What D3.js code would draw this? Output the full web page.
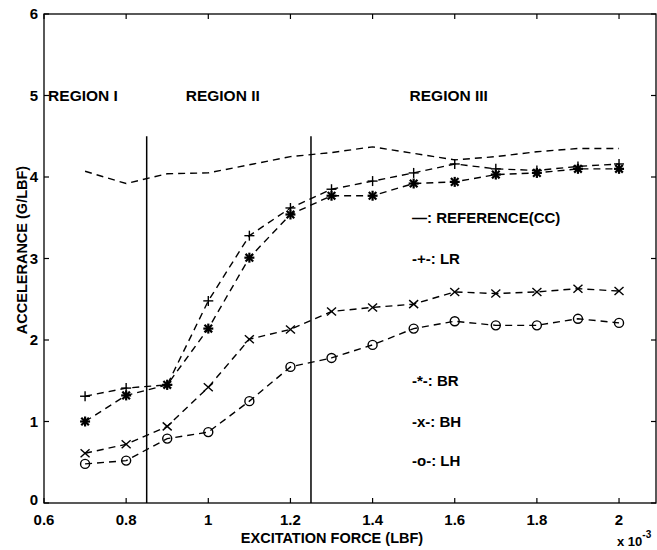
<!DOCTYPE html>
<html>
<head>
<meta charset="utf-8">
<script src="https://cdn.jsdelivr.net/npm/d3@7"></script>
<style>
  html, body { margin: 0; padding: 0; background: #fff; }
  svg { display: block; }
  text { font-family: "Liberation Sans", Arial, Helvetica, sans-serif; font-weight: bold; fill: #000; }
</style>
</head>
<body>
<svg id="chart" width="657" height="550"></svg>
<script>
// Excitation force (x 10^-3 LBF) at which each accelerance was measured
const forceValues = [0.7, 0.8, 0.9, 1.0, 1.1, 1.2, 1.3, 1.4, 1.5, 1.6, 1.7, 1.8, 1.9, 2.0];

// Accelerance (G/LBF) per configuration
const referenceCC = [4.07, 3.92, 4.04, 4.05, 4.15, 4.25, 4.30, 4.37, 4.29, 4.21, 4.25, 4.31, 4.35, 4.35];
const lrValues    = [1.31, 1.41, 1.45, 2.48, 3.28, 3.62, 3.85, 3.95, 4.05, 4.16, 4.10, 4.08, 4.13, 4.16];
const brValues    = [1.00, 1.32, 1.45, 2.14, 3.01, 3.54, 3.77, 3.77, 3.92, 3.94, 4.03, 4.05, 4.10, 4.10];
const bhValues    = [0.61, 0.72, 0.94, 1.42, 2.01, 2.13, 2.35, 2.40, 2.44, 2.59, 2.57, 2.59, 2.63, 2.60];
const lhValues    = [0.48, 0.52, 0.79, 0.87, 1.25, 1.67, 1.78, 1.94, 2.14, 2.23, 2.18, 2.18, 2.26, 2.21];

// Axis ticks
const xTicks = [0.6, 0.8, 1.0, 1.2, 1.4, 1.6, 1.8, 2.0];
const xTickLabels = ["0.6", "0.8", "1", "1.2", "1.4", "1.6", "1.8", "2"];
const yTicks = [0, 1, 2, 3, 4, 5, 6];
const yTickLabels = ["0", "1", "2", "3", "4", "5", "6"];

// Region boundaries and labels
const regionBounds = [0.85, 1.25];
const regionBoundTop = 4.5;
const regionLabels = ["REGION I", "REGION II", "REGION III"];
const regionLabelX = [0.61, 0.945, 1.49];
const regionLabelY = 5;

// Legend entries
const legendLabels = ["\u2014: REFERENCE(CC)", "-+-: LR", "-*-: BR", "-x-: BH", "-o-: LH"];
const legendY = [3.5, 3.0, 1.5, 1.0, 0.52];

const svg = d3.select("#chart");
const x = d3.scaleLinear().domain([0.6, 2.09]).range([44, 656]);
const y = d3.scaleLinear().domain([0, 6]).range([503, 14]);

const plotLeft = x.range()[0], plotRight = x.range()[1];
const plotTop = y.range()[1], plotBottom = y.range()[0];

// Frame
svg.append("rect")
  .attr("x", plotLeft).attr("y", plotTop)
  .attr("width", plotRight - plotLeft).attr("height", plotBottom - plotTop)
  .attr("fill", "none").attr("stroke", "#000").attr("stroke-width", 1.3);

// Inward ticks on all four sides
const tickLen = 5;
const g = svg.append("g").attr("stroke", "#000").attr("stroke-width", 1.2);
xTicks.forEach(v => {
  g.append("line").attr("x1", x(v)).attr("x2", x(v)).attr("y1", plotBottom).attr("y2", plotBottom - tickLen);
  g.append("line").attr("x1", x(v)).attr("x2", x(v)).attr("y1", plotTop).attr("y2", plotTop + tickLen);
});
yTicks.forEach(v => {
  g.append("line").attr("x1", plotLeft).attr("x2", plotLeft + tickLen).attr("y1", y(v)).attr("y2", y(v));
  g.append("line").attr("x1", plotRight).attr("x2", plotRight - tickLen).attr("y1", y(v)).attr("y2", y(v));
});

// Tick labels
svg.append("g").selectAll("text").data(xTicks).join("text")
  .attr("x", d => x(d)).attr("y", 525)
  .attr("text-anchor", "middle").attr("font-size", 15)
  .text((d, i) => xTickLabels[i]);
svg.append("g").selectAll("text").data(yTicks).join("text")
  .attr("x", 38).attr("y", d => y(d) - (d === 0 ? 3 : 0))
  .attr("dy", "0.36em")
  .attr("text-anchor", "end").attr("font-size", 15)
  .text((d, i) => yTickLabels[i]);

// Axis titles
svg.append("text")
  .attr("x", 332).attr("y", 543)
  .attr("text-anchor", "middle").attr("font-size", 14.5)
  .text("EXCITATION FORCE (LBF)");
svg.append("text")
  .attr("transform", "translate(27,250) rotate(-90)")
  .attr("text-anchor", "middle").attr("font-size", 14.5)
  .text("ACCELERANCE (G/LBF)");

// Exponent note
const expo = svg.append("text").attr("x", 617).attr("y", 546).attr("font-size", 13);
expo.append("tspan").text("x 10");
expo.append("tspan").attr("dy", -8).attr("font-size", 10).text("-3");

// Region boundaries
svg.append("g").selectAll("line").data(regionBounds).join("line")
  .attr("x1", d => x(d)).attr("x2", d => x(d))
  .attr("y1", y(0)).attr("y2", y(regionBoundTop))
  .attr("stroke", "#000").attr("stroke-width", 1.5);

// Region labels
svg.append("g").selectAll("text").data(regionLabels).join("text")
  .attr("x", (d, i) => x(regionLabelX[i])).attr("y", y(regionLabelY))
  .attr("dy", "0.36em").attr("font-size", 15.5)
  .text(d => d);

// Series lines
const line = d3.line().x((d, i) => x(forceValues[i])).y(d => y(d));
const seriesList = [
  { key: "ref", values: referenceCC, marker: null },
  { key: "lr", values: lrValues, marker: "plus" },
  { key: "br", values: brValues, marker: "star" },
  { key: "bh", values: bhValues, marker: "cross" },
  { key: "lh", values: lhValues, marker: "circle" }
];

seriesList.forEach(s => {
  svg.append("path")
    .datum(s.values)
    .attr("d", line)
    .attr("fill", "none")
    .attr("stroke", "#000")
    .attr("stroke-width", 1.4)
    .attr("stroke-dasharray", "7,5");
});

// Markers
function drawMarker(sel, type, cx, cy) {
  const m = sel.append("g").attr("transform", `translate(${cx},${cy})`)
    .attr("stroke", "#000").attr("fill", "none");
  if (type === "plus") {
    m.attr("stroke-width", 1.4);
    m.append("line").attr("x1", -5).attr("x2", 5).attr("y1", 0).attr("y2", 0);
    m.append("line").attr("x1", 0).attr("x2", 0).attr("y1", -5).attr("y2", 5);
  } else if (type === "cross") {
    m.attr("stroke-width", 1.4);
    m.append("line").attr("x1", -4.5).attr("x2", 4.5).attr("y1", -4).attr("y2", 4);
    m.append("line").attr("x1", -4.5).attr("x2", 4.5).attr("y1", 4).attr("y2", -4);
  } else if (type === "star") {
    m.attr("stroke-width", 2.2);
    m.append("line").attr("x1", -5).attr("x2", 5).attr("y1", 0).attr("y2", 0);
    m.append("line").attr("x1", 0).attr("x2", 0).attr("y1", -5).attr("y2", 5);
    m.append("line").attr("x1", -3.8).attr("x2", 3.8).attr("y1", -3.8).attr("y2", 3.8);
    m.append("line").attr("x1", -3.8).attr("x2", 3.8).attr("y1", 3.8).attr("y2", -3.8);
  } else if (type === "circle") {
    m.attr("stroke-width", 1.4);
    m.append("circle").attr("r", 4.5);
  }
}
const markers = svg.append("g");
seriesList.filter(s => s.marker).forEach(s => {
  s.values.forEach((v, i) => drawMarker(markers, s.marker, x(forceValues[i]), y(v)));
});

// Legend
svg.append("g").selectAll("text").data(legendLabels).join("text")
  .attr("x", 412).attr("y", (d, i) => y(legendY[i]))
  .attr("dy", "0.36em").attr("font-size", 15)
  .text(d => d);
</script>
</body>
</html>
